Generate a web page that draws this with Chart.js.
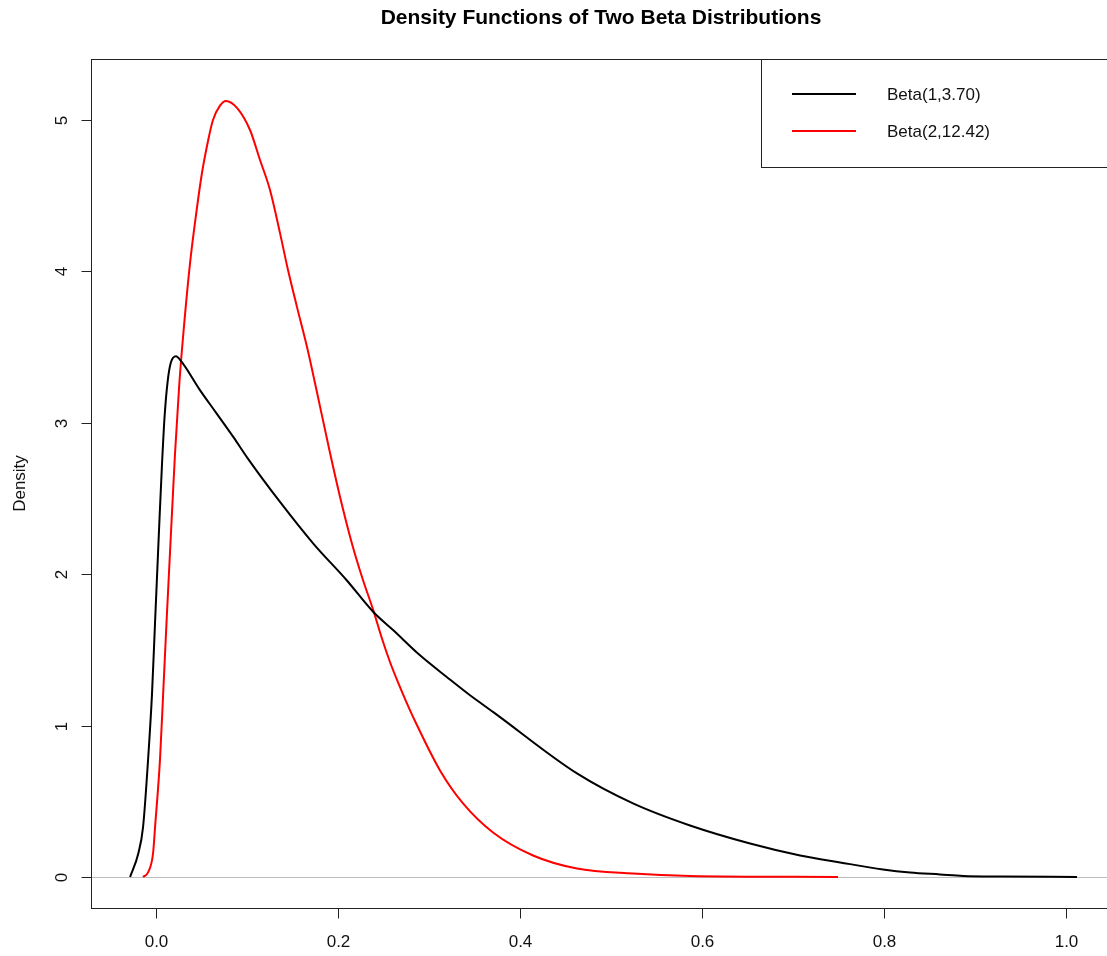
<!DOCTYPE html>
<html>
<head>
<meta charset="utf-8">
<script src="https://cdn.jsdelivr.net/npm/chart.js@4.4.1/dist/chart.umd.min.js"></script>
<style>
  html, body { margin: 0; padding: 0; background: #fff; }
  #wrap { width: 1107px; height: 956px; position: relative; }
</style>
</head>
<body>
<div id="wrap"><canvas id="densityChart"></canvas></div>
<script>
// values
const blackX = [-0.029, -0.020, -0.0148, -0.0093, -0.0049, -0.0016, 0.0027, 0.0060, 0.0090, 0.0126,
  0.0159, 0.0214, 0.0277, 0.0478, 0.0662, 0.0844, 0.1009, 0.1358, 0.1724, 0.2091, 0.2384, 0.2604,
  0.2897, 0.3191, 0.3447, 0.3703, 0.4623, 0.5239, 0.5866, 0.6526, 0.7076, 0.7516, 0.7988, 0.8285,
  0.8615, 0.8868, 0.9296, 1.012];
const blackY = [0, 0.155, 0.327, 0.770, 1.213, 1.680, 2.280, 2.720, 3.050, 3.290,
  3.400, 3.440, 3.402, 3.216, 3.061, 2.907, 2.760, 2.477, 2.202, 1.960, 1.750, 1.629,
  1.464, 1.321, 1.200, 1.089, 0.684, 0.486, 0.340, 0.221, 0.142, 0.096, 0.050, 0.030,
  0.017, 0.007, 0.003, 0];

const redX = [-0.0148, -0.0093, -0.0038, -0.0016, 0.0038, 0.0071, 0.0115, 0.0170, 0.0203, 0.0250,
  0.0291, 0.0368, 0.0445, 0.0500, 0.0566, 0.0621, 0.0698, 0.0764, 0.0885, 0.1028, 0.1138, 0.1248,
  0.1358, 0.1446, 0.1545, 0.1655, 0.1765, 0.1908, 0.2018, 0.2150, 0.2271, 0.2384, 0.2476, 0.2567,
  0.2659, 0.2751, 0.2842, 0.3117, 0.3370, 0.3700, 0.4140, 0.4623, 0.5239, 0.5866, 0.7493];
const redY = [0, 0.030, 0.155, 0.327, 0.770, 1.180, 1.740, 2.400, 2.790, 3.250,
  3.560, 4.050, 4.420, 4.650, 4.860, 5.000, 5.095, 5.126, 5.080, 4.934, 4.736, 4.538,
  4.253, 4.009, 3.764, 3.500, 3.200, 2.800, 2.510, 2.200, 1.960, 1.761, 1.580, 1.420,
  1.280, 1.150, 1.030, 0.704, 0.486, 0.294, 0.142, 0.056, 0.023, 0.007, 0];

const xTicks = [0, 0.2, 0.4, 0.6, 0.8, 1.0];
const xTickLabels = ["0.0", "0.2", "0.4", "0.6", "0.8", "1.0"];
const yTicks = [0, 1, 2, 3, 4, 5];
const yTickLabels = ["0", "1", "2", "3", "4", "5"];
const seriesNames = ["Beta(1,3.70)", "Beta(2,12.42)"];
const seriesColors = ["#000000", "#ff0000"];

const FONT = '"Liberation Sans", Arial, sans-serif';

function toPoints(xs, ys) {
  return xs.map((x, i) => ({ x: x, y: ys[i] }));
}

// R-style base graphics: box, outward ticks, rotated y labels, legend and title
const rAxesPlugin = {
  id: "rAxes",
  beforeDatasetsDraw(chart) {
    const { ctx, chartArea, scales } = chart;
    const y0 = Math.round(scales.y.getPixelForValue(0)) + 0.5;
    ctx.save();
    ctx.strokeStyle = "#bebebe";
    ctx.lineWidth = 1;
    ctx.beginPath();
    ctx.moveTo(chartArea.left, y0);
    ctx.lineTo(chartArea.right, y0);
    ctx.stroke();
    ctx.restore();
  },
  afterDraw(chart) {
    const { ctx, chartArea, scales } = chart;
    const left = chartArea.left + 0.5;
    const top = chartArea.top + 0.5;
    const bottom = chartArea.bottom + 0.5;
    ctx.save();
    ctx.strokeStyle = "#222";
    ctx.lineWidth = 1;
    ctx.strokeRect(left, top, chartArea.right + 10 - left, bottom - top);

    ctx.fillStyle = "#111";
    ctx.font = "17px " + FONT;
    ctx.textAlign = "center";
    ctx.textBaseline = "alphabetic";
    xTicks.forEach((v, i) => {
      const px = Math.round(scales.x.getPixelForValue(v)) + 0.5;
      ctx.beginPath();
      ctx.moveTo(px, bottom);
      ctx.lineTo(px, bottom + 10);
      ctx.stroke();
      ctx.fillText(xTickLabels[i], px, 947);
    });
    yTicks.forEach((v, i) => {
      const py = Math.round(scales.y.getPixelForValue(v)) + 0.5;
      ctx.beginPath();
      ctx.moveTo(left, py);
      ctx.lineTo(left - 10, py);
      ctx.stroke();
      ctx.save();
      ctx.translate(67, py);
      ctx.rotate(-Math.PI / 2);
      ctx.fillText(yTickLabels[i], 0, 0);
      ctx.restore();
    });

    ctx.save();
    ctx.translate(25, (chartArea.top + chartArea.bottom) / 2);
    ctx.rotate(-Math.PI / 2);
    ctx.fillText("Density", 0, 0);
    ctx.restore();

    // legend
    ctx.strokeRect(761.5, top, 400, 108);
    const rows = [94, 131];
    seriesNames.forEach((name, i) => {
      ctx.strokeStyle = seriesColors[i];
      ctx.lineWidth = 2;
      ctx.beginPath();
      ctx.moveTo(792, rows[i]);
      ctx.lineTo(856, rows[i]);
      ctx.stroke();
      ctx.textAlign = "left";
      ctx.textBaseline = "middle";
      ctx.fillText(name, 887, rows[i] + 1);
    });

    // title
    ctx.fillStyle = "#000";
    ctx.font = "bold 21px " + FONT;
    ctx.textAlign = "center";
    ctx.textBaseline = "alphabetic";
    ctx.fillText("Density Functions of Two Beta Distributions", 601, 24);
    ctx.restore();
  },
};

const densityCtx = document.getElementById("densityChart").getContext("2d");
const densityChart = new Chart(densityCtx, {
  type: "scatter",
  data: {
    datasets: [
      {
        label: seriesNames[0],
        data: toPoints(blackX, blackY),
        borderColor: seriesColors[0],
        borderWidth: 2,
        showLine: true,
        pointRadius: 0,
        cubicInterpolationMode: "monotone",
      },
      {
        label: seriesNames[1],
        data: toPoints(redX, redY),
        borderColor: seriesColors[1],
        borderWidth: 2,
        showLine: true,
        pointRadius: 0,
        cubicInterpolationMode: "monotone",
      },
    ],
  },
  options: {
    responsive: true,
    maintainAspectRatio: false,
    animation: false,
    layout: {
      padding: { left: 91, top: 59, right: 0, bottom: 48 },
    },
    plugins: {
      legend: { display: false },
      title: { display: false },
      tooltip: { enabled: false },
    },
    scales: {
      x: { type: "linear", min: -0.072, max: 1.045, display: false },
      y: { type: "linear", min: -0.205, max: 5.403, display: false },
    },
  },
  plugins: [rAxesPlugin],
});
</script>
</body>
</html>
